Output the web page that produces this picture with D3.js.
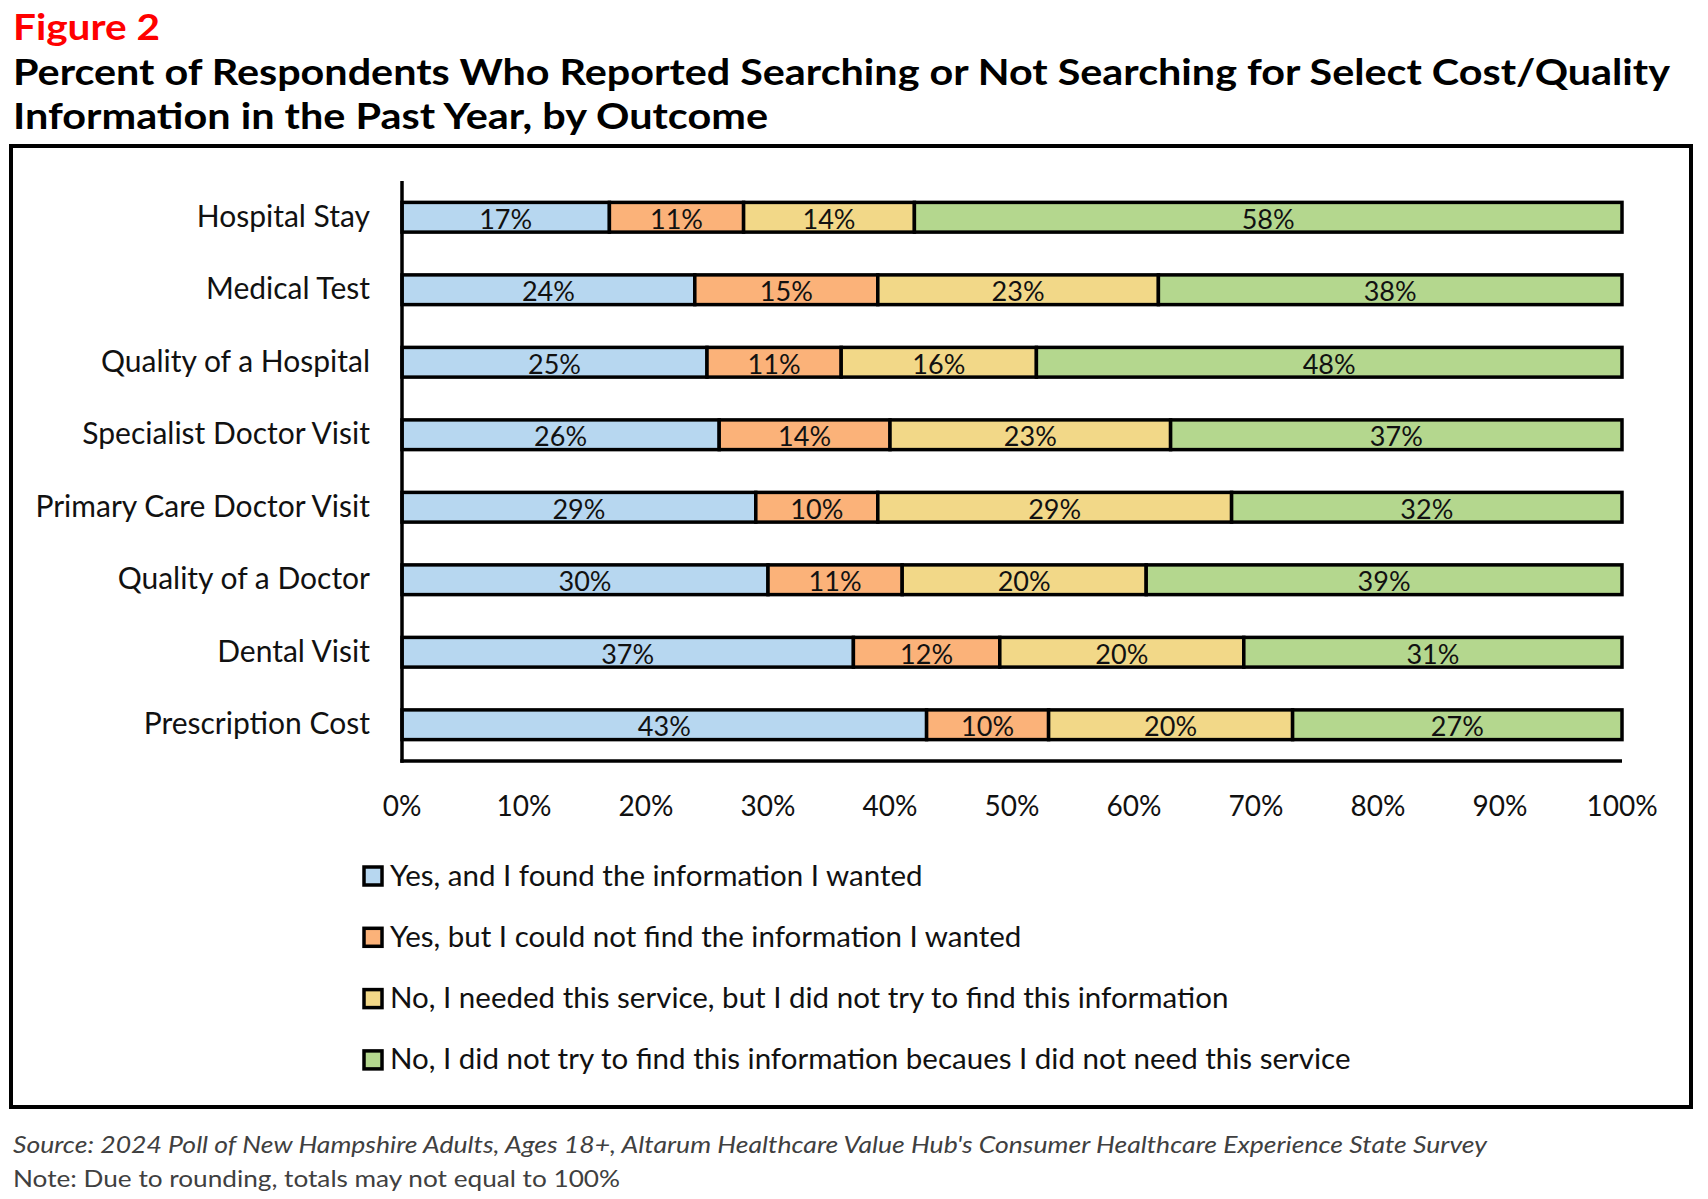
<!DOCTYPE html>
<html>
<head>
<meta charset="utf-8">
<script src="https://cdn.jsdelivr.net/npm/d3@7"></script>
<style>
  body { margin: 0; background: #fff; }
  text { font-family: Lato, "Open Sans", sans-serif; }
</style>
</head>
<body>
<svg id="chart"></svg>
<script>
const width = 1708;
const height = 1199;

// data
const categories = ["Hospital Stay", "Medical Test", "Quality of a Hospital", "Specialist Doctor Visit",
    "Primary Care Doctor Visit", "Quality of a Doctor", "Dental Visit", "Prescription Cost"];
const found     = [17, 24, 25, 26, 29, 30, 37, 43];
const notFound  = [11, 15, 11, 14, 10, 11, 12, 10];
const didNotTry = [14, 23, 16, 23, 29, 20, 20, 20];
const notNeeded = [58, 38, 48, 37, 32, 39, 31, 27];
const seriesKeys = ["found", "notFound", "didNotTry", "notNeeded"];
const seriesNames = [
    "Yes, and I found the information I wanted",
    "Yes, but I could not find the information I wanted",
    "No, I needed this service, but I did not try to find this information",
    "No, I did not try to find this information becaues I did not need this service"
];
const tickValues = [0, 10, 20, 30, 40, 50, 60, 70, 80, 90, 100];

const rows = categories.map((c, i) => ({
    cat: c, found: found[i], notFound: notFound[i], didNotTry: didNotTry[i], notNeeded: notNeeded[i]
}));

const svg = d3.select("#chart")
    .attr("width", width)
    .attr("height", height);

const color = d3.scaleOrdinal()
    .domain(seriesKeys)
    .range(["#B7D7F0", "#FBB279", "#F2D888", "#B4D78E"]);

// fit a text to a measured width from the picture
function fit(sel, w) {
    const len = sel.node().getComputedTextLength();
    if (Math.abs(len - w) > 2) sel.attr("textLength", w).attr("lengthAdjust", "spacingAndGlyphs");
}

// titles
svg.append("text")
    .attr("x", 13).attr("y", 40)
    .attr("fill", "#FF0000")
    .style("font-weight", "bold").style("font-size", "37px")
    .text("Figure 2")
    .call(fit, 147);

svg.append("text")
    .attr("x", 13).attr("y", 85)
    .style("font-weight", "bold").style("font-size", "35.5px")
    .text("Percent of Respondents Who Reported Searching or Not Searching for Select Cost/Quality")
    .call(fit, 1657);

svg.append("text")
    .attr("x", 13).attr("y", 129)
    .style("font-weight", "bold").style("font-size", "35.5px")
    .text("Information in the Past Year, by Outcome")
    .call(fit, 755);

// frame
svg.append("rect")
    .attr("x", 11).attr("y", 146)
    .attr("width", 1680).attr("height", 961)
    .attr("fill", "none")
    .attr("stroke", "#000")
    .attr("stroke-width", 4);

const x = d3.scaleLinear().domain([0, 100]).range([402, 1622]);
const y = d3.scaleBand().domain(categories).range([181, 761])
    .paddingInner(0.59).paddingOuter(0.295);

const stacked = d3.stack().keys(seriesKeys)(rows);

const layer = svg.selectAll(".layer")
    .data(stacked)
    .enter().append("g")
    .attr("class", "layer")
    .attr("fill", d => color(d.key));

layer.selectAll("rect")
    .data(d => d)
    .enter().append("rect")
    .attr("x", d => x(d[0]))
    .attr("y", d => y(d.data.cat))
    .attr("width", d => x(d[1]) - x(d[0]))
    .attr("height", y.bandwidth())
    .attr("stroke", "#000")
    .attr("stroke-width", 3.5);

layer.selectAll("text")
    .data(d => d)
    .enter().append("text")
    .attr("x", d => (x(d[0]) + x(d[1])) / 2)
    .attr("y", d => y(d.data.cat) + y.bandwidth() / 2 + 11.5)
    .attr("text-anchor", "middle")
    .attr("fill", "#111")
    .style("font-size", "27px")
    .text(d => (d[1] - d[0]) + "%");

// axes
svg.append("line")
    .attr("x1", x(0)).attr("x2", x(0))
    .attr("y1", 181).attr("y2", 762.75)
    .attr("stroke", "#000").attr("stroke-width", 3.5);
svg.append("line")
    .attr("x1", x(0) - 1.75).attr("x2", x(100))
    .attr("y1", 761).attr("y2", 761)
    .attr("stroke", "#000").attr("stroke-width", 3.5);

svg.selectAll(".cat")
    .data(categories)
    .enter().append("text")
    .attr("class", "cat")
    .attr("x", 370)
    .attr("y", d => y(d) + y.bandwidth() / 2 + 9.5)
    .attr("text-anchor", "end")
    .attr("fill", "#111")
    .style("font-size", "30px")
    .text(d => d);

svg.selectAll(".tick")
    .data(tickValues)
    .enter().append("text")
    .attr("class", "tick")
    .attr("x", d => x(d))
    .attr("y", 816)
    .attr("text-anchor", "middle")
    .attr("fill", "#111")
    .style("font-size", "28px")
    .text(d => d + "%");

// legend
const legend = svg.selectAll(".legend")
    .data(seriesKeys)
    .enter().append("g")
    .attr("class", "legend")
    .attr("transform", (d, i) => `translate(0, ${876 + i * 61.3})`);

legend.append("rect")
    .attr("x", 364).attr("y", -9)
    .attr("width", 18).attr("height", 18)
    .attr("fill", d => color(d))
    .attr("stroke", "#000")
    .attr("stroke-width", 3.5);

legend.append("text")
    .attr("x", 390).attr("y", 9.5)
    .attr("fill", "#111")
    .style("font-size", "29.5px")
    .text((d, i) => seriesNames[i]);

// notes
svg.append("text")
    .attr("x", 13).attr("y", 1153)
    .attr("fill", "#404040")
    .style("font-style", "italic").style("font-size", "24px")
    .text("Source: 2024 Poll of New Hampshire Adults, Ages 18+, Altarum Healthcare Value Hub's Consumer Healthcare Experience State Survey")
    .call(fit, 1474);

svg.append("text")
    .attr("x", 13).attr("y", 1187)
    .attr("fill", "#404040")
    .style("font-size", "24px")
    .text("Note: Due to rounding, totals may not equal to 100%")
    .call(fit, 607);
</script>
</body>
</html>
